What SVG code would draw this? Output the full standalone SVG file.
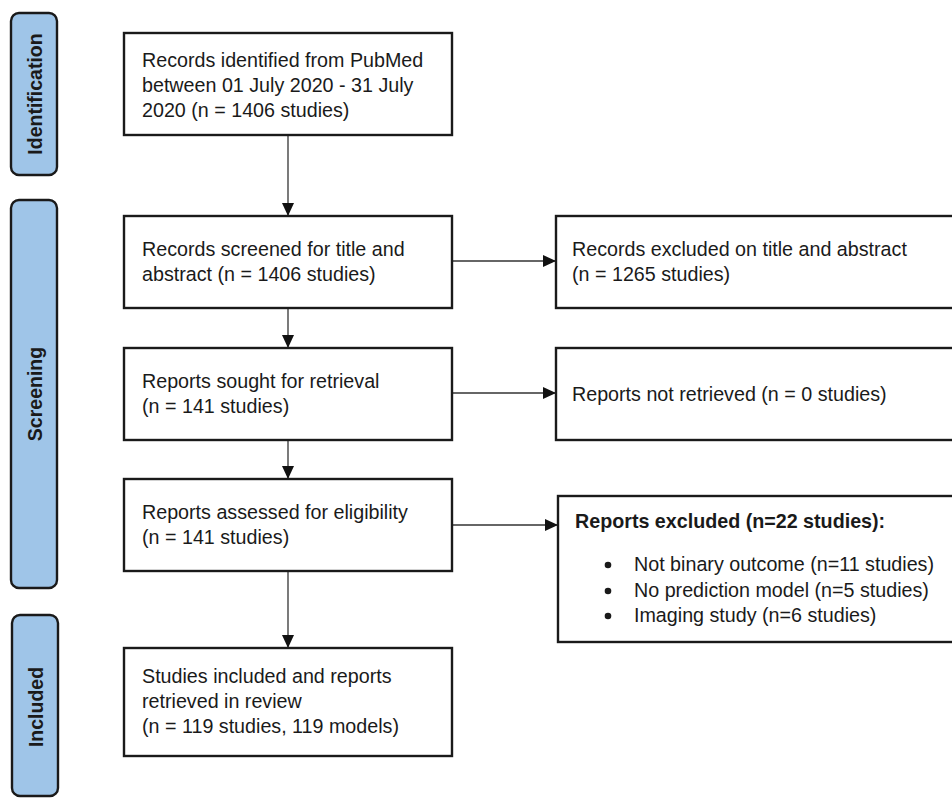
<svg xmlns="http://www.w3.org/2000/svg" width="952" height="798" viewBox="0 0 952 798">
<defs>
<style>
.tab{fill:#9fc5e8;stroke:#1a1a1a;stroke-width:2.4}
.box{fill:#fff;stroke:#1a1a1a;stroke-width:2.4}
.t{font-family:"Liberation Sans",Arial,sans-serif;font-size:19.7px;fill:#1a1a1a}
.b{font-family:"Liberation Sans",Arial,sans-serif;font-size:19.7px;font-weight:bold;fill:#1a1a1a}
.tl{font-family:"Liberation Sans",Arial,sans-serif;font-size:19.5px;font-weight:bold;fill:#1a1a1a}
.c{stroke:#333;stroke-width:1.3;fill:none;marker-end:url(#ah)}
</style>
<marker id="ah" viewBox="0 0 13 12" refX="13" refY="6" markerWidth="13" markerHeight="12" markerUnits="userSpaceOnUse" orient="auto">
<path d="M0,0 L13,6 L0,12 Z" fill="#111"/>
</marker>
</defs>
<rect width="952" height="798" fill="#fff"/>

<g id="tab-identification">
<rect class="tab" x="11" y="13" width="46" height="162" rx="8"/>
<text class="tl" transform="translate(42,94) rotate(-90)" text-anchor="middle">Identification</text>
</g>
<g id="tab-screening">
<rect class="tab" x="11" y="200" width="46" height="388" rx="8"/>
<text class="tl" transform="translate(42,394) rotate(-90)" text-anchor="middle">Screening</text>
</g>
<g id="tab-included">
<rect class="tab" x="12" y="615" width="46" height="181" rx="8"/>
<text class="tl" transform="translate(43,707) rotate(-90)" text-anchor="middle">Included</text>
</g>

<g id="connectors">
<line class="c" x1="288" y1="135" x2="288" y2="216"/>
<line class="c" x1="288" y1="308" x2="288" y2="348"/>
<line class="c" x1="288" y1="440" x2="288" y2="479"/>
<line class="c" x1="288" y1="571" x2="288" y2="648"/>
<line class="c" x1="452" y1="261" x2="556" y2="261"/>
<line class="c" x1="452" y1="393" x2="556" y2="393"/>
<line class="c" x1="452" y1="525" x2="558" y2="525"/>
</g>

<g id="identified">
<rect class="box" x="124" y="33" width="328" height="102"/>
<text class="t" x="142" y="67">Records identified from PubMed</text>
<text class="t" x="142" y="92">between 01 July 2020 - 31 July</text>
<text class="t" x="142" y="117">2020 (n = 1406 studies)</text>
</g>
<g id="screened">
<rect class="box" x="124" y="216" width="328" height="92"/>
<text class="t" x="142" y="256">Records screened for title and</text>
<text class="t" x="142" y="281">abstract (n = 1406 studies)</text>
</g>
<g id="sought">
<rect class="box" x="124" y="348" width="328" height="92"/>
<text class="t" x="142" y="388">Reports sought for retrieval</text>
<text class="t" x="142" y="413">(n = 141 studies)</text>
</g>
<g id="assessed">
<rect class="box" x="124" y="479" width="328" height="92"/>
<text class="t" x="142" y="519">Reports assessed for eligibility</text>
<text class="t" x="142" y="544">(n = 141 studies)</text>
</g>
<g id="included">
<rect class="box" x="124" y="648" width="328" height="108"/>
<text class="t" x="142" y="683">Studies included and reports</text>
<text class="t" x="142" y="708">retrieved in review</text>
<text class="t" x="142" y="733">(n = 119 studies, 119 models)</text>
</g>

<g id="excluded-title">
<rect class="box" x="556" y="216" width="410" height="92"/>
<text class="t" x="572" y="256">Records excluded on title and abstract</text>
<text class="t" x="572" y="281">(n = 1265 studies)</text>
</g>
<g id="not-retrieved">
<rect class="box" x="556" y="348" width="410" height="92"/>
<text class="t" x="572" y="401">Reports not retrieved (n = 0 studies)</text>
</g>
<g id="excluded-reports">
<rect class="box" x="558" y="496" width="410" height="146"/>
<text class="b" x="575" y="528">Reports excluded (n=22 studies):</text>
<circle cx="608" cy="565" r="3.3" fill="#1a1a1a"/>
<circle cx="608" cy="591" r="3.3" fill="#1a1a1a"/>
<circle cx="608" cy="616" r="3.3" fill="#1a1a1a"/>
<text class="t" x="634" y="571">Not binary outcome (n=11 studies)</text>
<text class="t" x="634" y="597">No prediction model (n=5 studies)</text>
<text class="t" x="634" y="622">Imaging study (n=6 studies)</text>
</g>
</svg>
